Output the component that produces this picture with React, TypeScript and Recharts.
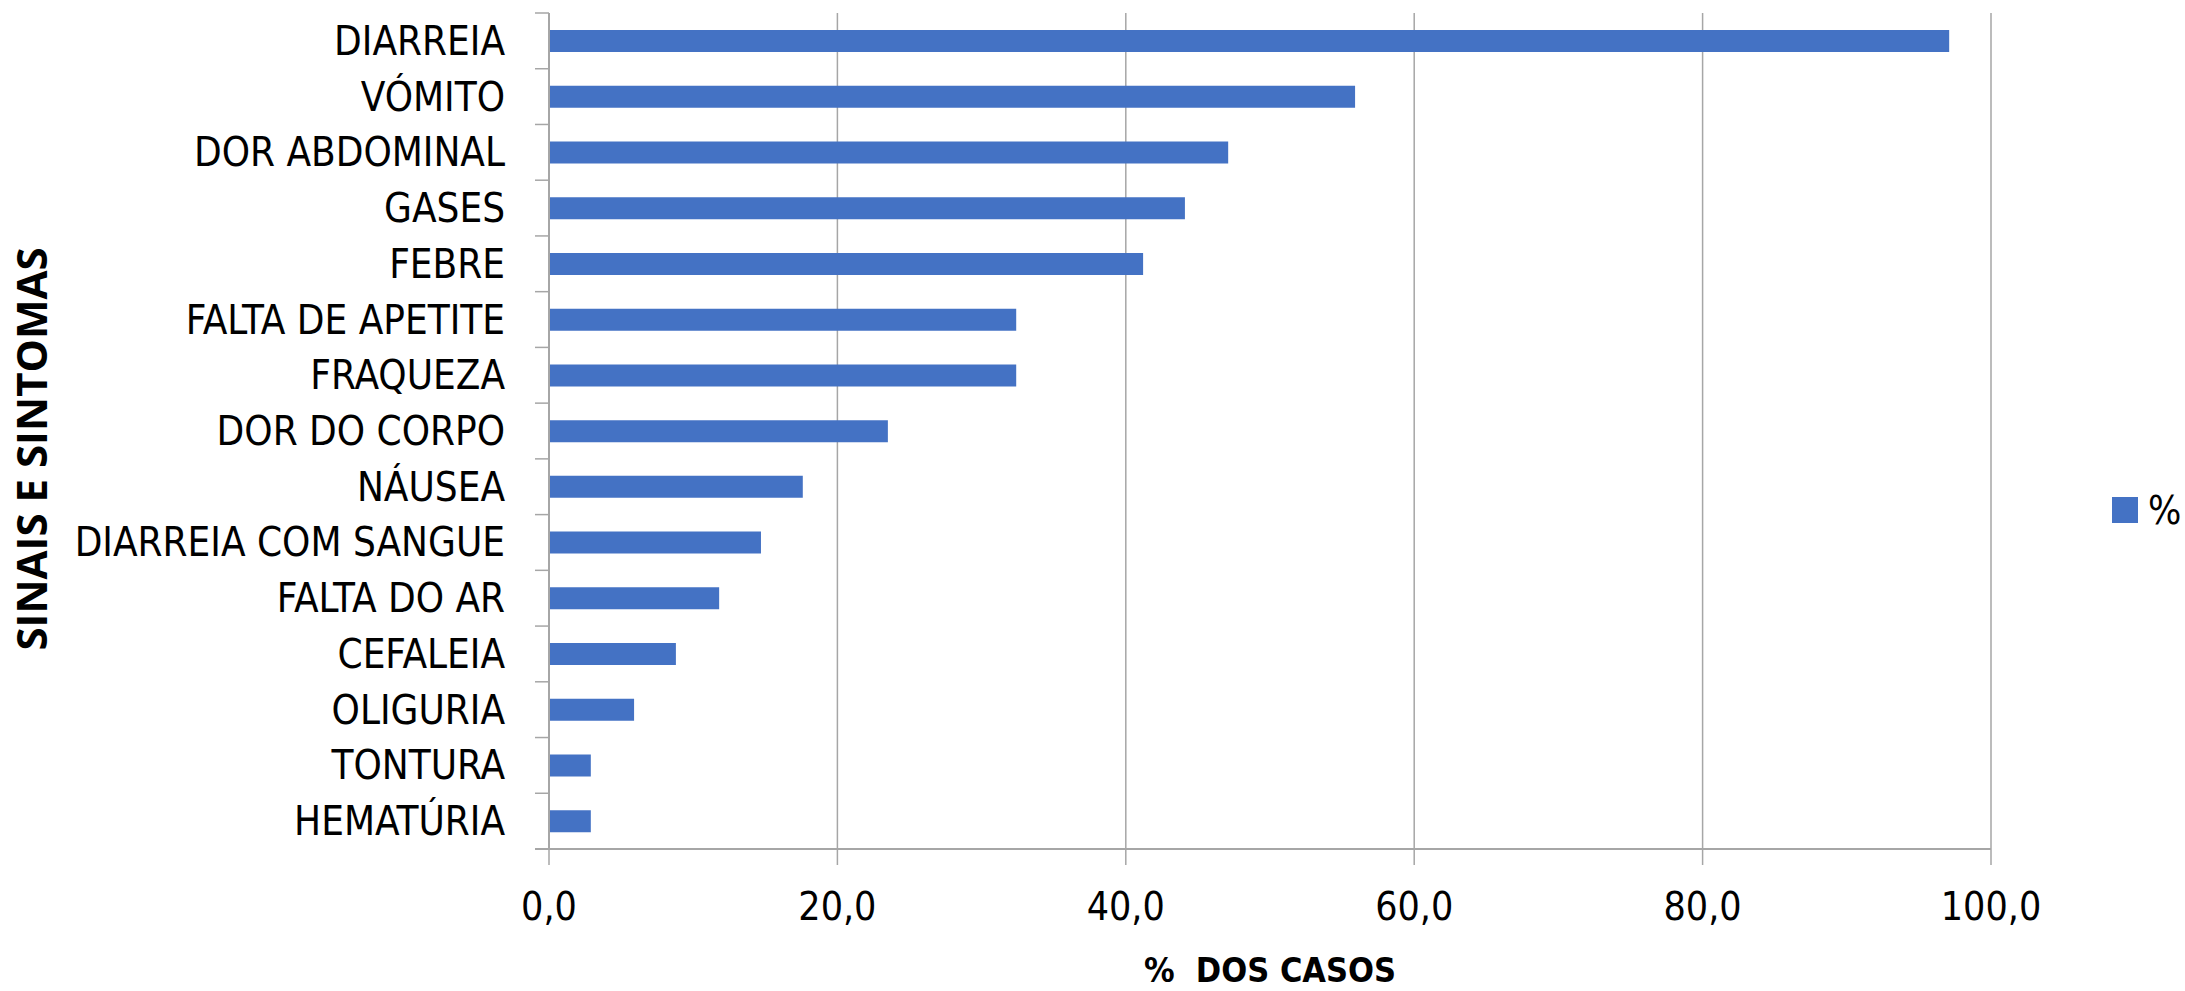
import {
  Bar,
  BarChart,
  CartesianGrid,
  Label,
  Legend,
  XAxis,
  YAxis,
} from 'recharts'

const categories = [
  'DIARREIA',
  'VÓMITO',
  'DOR ABDOMINAL',
  'GASES',
  'FEBRE',
  'FALTA DE APETITE',
  'FRAQUEZA',
  'DOR DO CORPO',
  'NÁUSEA',
  'DIARREIA COM SANGUE',
  'FALTA DO AR',
  'CEFALEIA',
  'OLIGURIA',
  'TONTURA',
  'HEMATÚRIA',
]

const percentages = [97.1, 55.9, 47.1, 44.1, 41.2, 32.4, 32.4, 23.5, 17.6, 14.7, 11.8, 8.8, 5.9, 2.9, 2.9]

const xTicks = [0, 20, 40, 60, 80, 100]

const seriesName = '%'
const xTitle = '%  DOS CASOS'
const yTitle = 'SINAIS E SINTOMAS'

const BAR_COLOR = '#4472C4'
const GRID_COLOR = '#a6a6a6'
const LABEL_FONT = '"DejaVu Sans Condensed", "DejaVu Sans", sans-serif'
const TITLE_FONT = '"Open Sans", "DejaVu Sans", sans-serif'

const chartData = categories.map((name, i) => ({ name, value: percentages[i] }))

export default function App() {
  return (
    <div style={{ position: 'absolute', left: 0, top: 0, background: '#fff' }}>
      <BarChart
        width={2185}
        height={991}
        data={chartData}
        layout="vertical"
        margin={{ top: 13, right: 194, bottom: 0, left: 0 }}
      >
        <CartesianGrid horizontal={false} stroke={GRID_COLOR} strokeWidth={1.5} />

        <XAxis
          type="number"
          domain={[0, 100]}
          ticks={xTicks}
          interval={0}
          height={142}
          tickSize={16}
          tickMargin={0}
          axisLine={{ stroke: GRID_COLOR, strokeWidth: 2 }}
          tickLine={{ stroke: GRID_COLOR, strokeWidth: 1.5 }}
          tick={<ValueTick />}
        >
          <Label
            content={() => (
              <text
                x={1270}
                y={982}
                textAnchor="middle"
                style={{ whiteSpace: 'pre' }}
                fontFamily={LABEL_FONT}
                fontWeight="bold"
                fontSize={34}
                fill="#000"
              >
                {xTitle}
              </text>
            )}
          />
        </XAxis>

        <YAxis
          type="category"
          dataKey="name"
          width={549}
          interval={0}
          tickSize={14}
          tickMargin={0}
          tickLine={false}
          axisLine={{ stroke: GRID_COLOR, strokeWidth: 2 }}
          tick={<CategoryTick count={categories.length} />}
        >
          <Label
            content={() => (
              <text
                x={47}
                y={449}
                transform="rotate(-90 47 449)"
                textAnchor="middle"
                fontFamily={TITLE_FONT}
                fontWeight="bold"
                fontSize={42}
                fill="#000"
              >
                {yTitle}
              </text>
            )}
          />
        </YAxis>

        <Bar dataKey="value" name={seriesName} fill={BAR_COLOR} barSize={22} isAnimationActive={false} />

        <Legend
          layout="horizontal"
          align="center"
          verticalAlign="middle"
          wrapperStyle={{ position: 'absolute', left: 2112, top: 497, width: 'auto' }}
          content={() => (
            <div style={{ display: 'flex', alignItems: 'center', height: 26 }}>
              <div style={{ width: 26, height: 26, background: BAR_COLOR, marginRight: 10 }} />
              <span style={{ fontFamily: LABEL_FONT, fontSize: 39, lineHeight: 1, color: '#000' }}>
                {seriesName}
              </span>
            </div>
          )}
        />
      </BarChart>
    </div>
  )
}

function CategoryTick(props: any) {
  const { x, y, payload, index, count } = props
  const half = payload?.offset ?? 836 / 15 / 2
  const axisX = x + 14
  return (
    <g>
      <line x1={x} x2={axisX} y1={y - half} y2={y - half} stroke={GRID_COLOR} strokeWidth={1.5} />
      {index === count - 1 && (
        <line x1={x} x2={axisX} y1={y + half} y2={y + half} stroke={GRID_COLOR} strokeWidth={2} />
      )}
      <text
        x={x - 30}
        y={y + 14}
        textAnchor="end"
        fontFamily={LABEL_FONT}
        fontSize={40}
        fill="#000"
      >
        {payload.value}
      </text>
    </g>
  )
}

function ValueTick(props: any) {
  const { x, y, payload } = props
  return (
    <text x={x} y={y + 55} textAnchor="middle" fontFamily={LABEL_FONT} fontSize={39} fill="#000">
      {formatPercent(payload.value)}
    </text>
  )
}

function formatPercent(value: number) {
  return value.toFixed(1).replace('.', ',')
}
